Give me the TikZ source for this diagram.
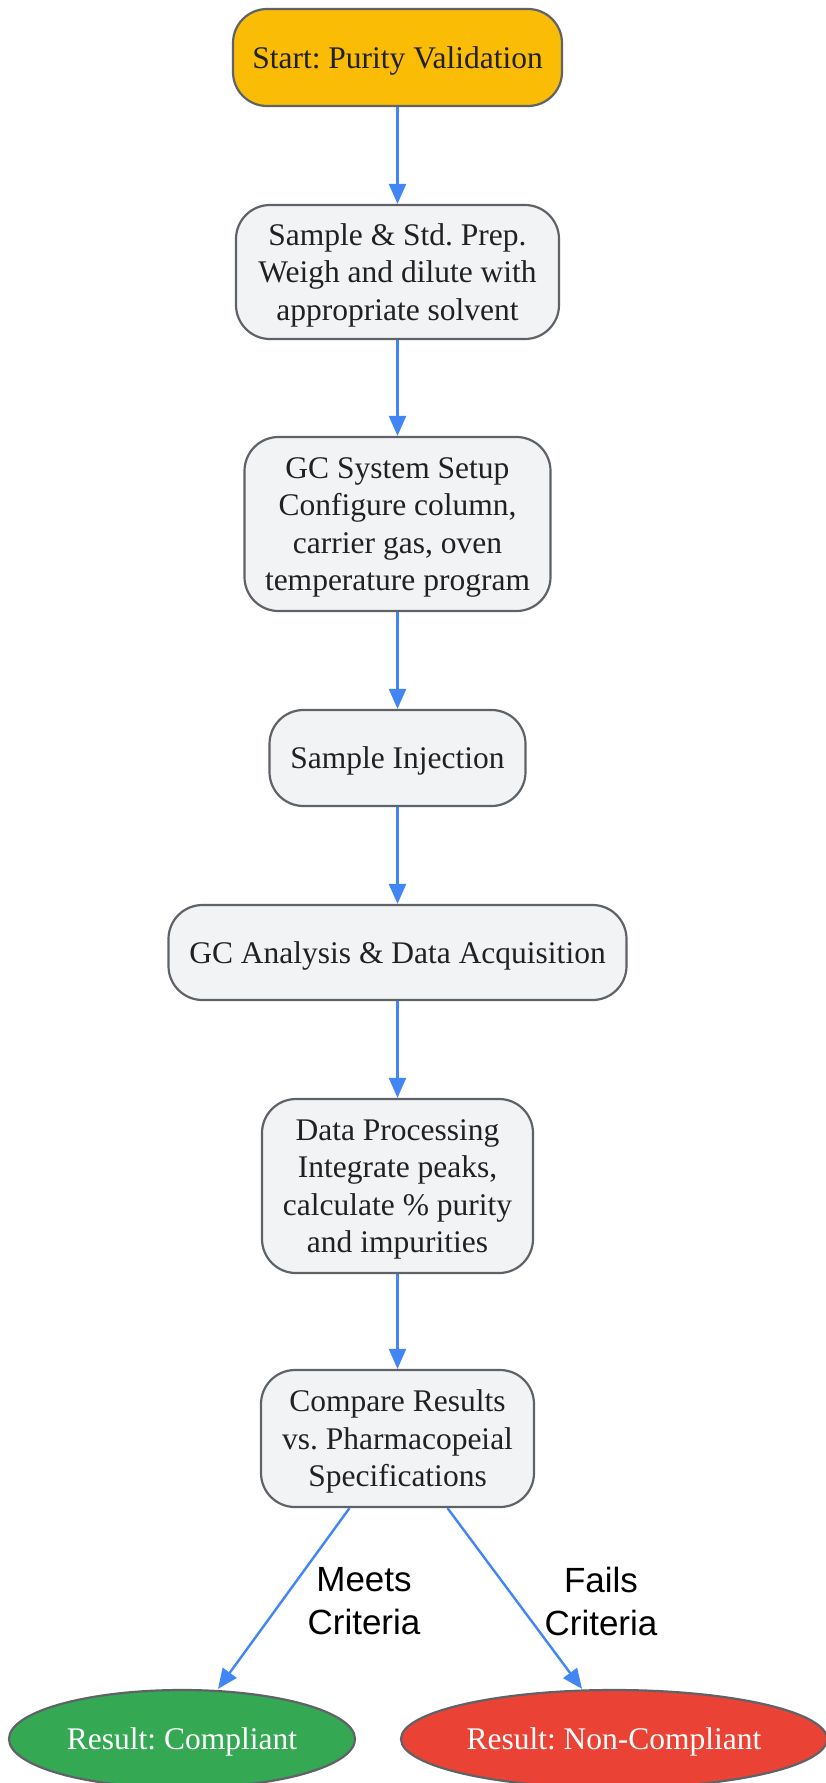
\documentclass[tikz,border=0pt]{standalone}
\usepackage{fontspec}
\setmainfont{Liberation Serif}
\newfontfamily\labelfont{Liberation Sans}
\usetikzlibrary{arrows.meta,shapes.geometric}
\definecolor{cyellow}{HTML}{FBBC05}
\definecolor{cbox}{HTML}{F1F3F4}
\definecolor{cborder}{HTML}{5F6368}
\definecolor{carrow}{HTML}{4285F4}
\definecolor{cgreen}{HTML}{34A853}
\definecolor{cred}{HTML}{EA4335}
\definecolor{ctext}{HTML}{202124}
\newcommand{\topline}{\vrule width 0pt height 29.4pt depth 0pt}
\newcommand{\botline}{\vrule width 0pt height 0pt depth 8.1pt}
\begin{document}
\begin{tikzpicture}[x=1pt,y=-1pt,
  linebox/.style={font=\fontsize{31.5}{37.5}\selectfont\frenchspacing},
  stepbox/.style={draw=cborder, line width=2.2pt, fill=cbox, rounded corners=34pt,
    align=center, text=ctext, inner sep=0pt, linebox},
  startbox/.style={stepbox, fill=cyellow},
  resultnode/.style={ellipse, draw=cborder, line width=2.2pt, text=white, inner sep=0pt,
    linebox},
  flow/.style={draw=carrow, line width=2.4pt, -{Triangle[length=20pt,width=17pt]}},
  edgelabel/.style={align=center, text=black, font=\labelfont\fontsize{35}{43}\selectfont}
]
\useasboundingbox (0,0) rectangle (825,1783);
\node[startbox, minimum width=329pt, minimum height=97pt] (start) at (397.5,57.5) {\topline Start: Purity Validation\botline};
\node[stepbox, minimum width=323pt, minimum height=134pt] (prep) at (397.5,272) {\topline Sample \& Std. Prep.\\Weigh and dilute with\\appropriate solvent\botline};
\node[stepbox, minimum width=306pt, minimum height=174pt] (setup) at (397.5,524) {\topline GC System Setup\\Configure column,\\carrier gas, oven\\temperature program\botline};
\node[stepbox, minimum width=256pt, minimum height=96pt] (inject) at (397.5,758) {\topline Sample Injection\botline};
\node[stepbox, minimum width=458pt, minimum height=95pt] (analysis) at (397.5,952.5) {\topline GC Analysis \& Data Acquisition\botline};
\node[stepbox, minimum width=271pt, minimum height=174pt] (process) at (397.5,1186) {\topline Data Processing\\Integrate peaks,\\calculate \% purity\\and impurities\botline};
\node[stepbox, minimum width=273pt, minimum height=137pt] (compare) at (397.5,1438.5) {\topline Compare Results\\vs. Pharmacopeial\\Specifications\botline};
\node[resultnode, fill=cgreen, minimum width=346pt, minimum height=98pt] (pass) at (182,1739) {\topline Result: Compliant\botline};
\node[resultnode, fill=cred, minimum width=426pt, minimum height=98pt] (fail) at (614,1739) {\topline Result: Non-Compliant\botline};

\draw[flow] (start) -- (prep);
\draw[flow] (prep) -- (setup);
\draw[flow] (setup) -- (inject);
\draw[flow] (inject) -- (analysis);
\draw[flow] (analysis) -- (process);
\draw[flow] (process) -- (compare);
\draw[flow] ([xshift=-48pt]compare.south) -- ([xshift=36pt]pass.north);
\draw[flow] ([xshift=50pt]compare.south) -- ([xshift=-32pt]fail.north);

\node[edgelabel] (lmeets) at (364,1601) {Meets\\Criteria};
\node[edgelabel] (lfails) at (601,1601) {Fails\\Criteria};
\end{tikzpicture}
\end{document}
